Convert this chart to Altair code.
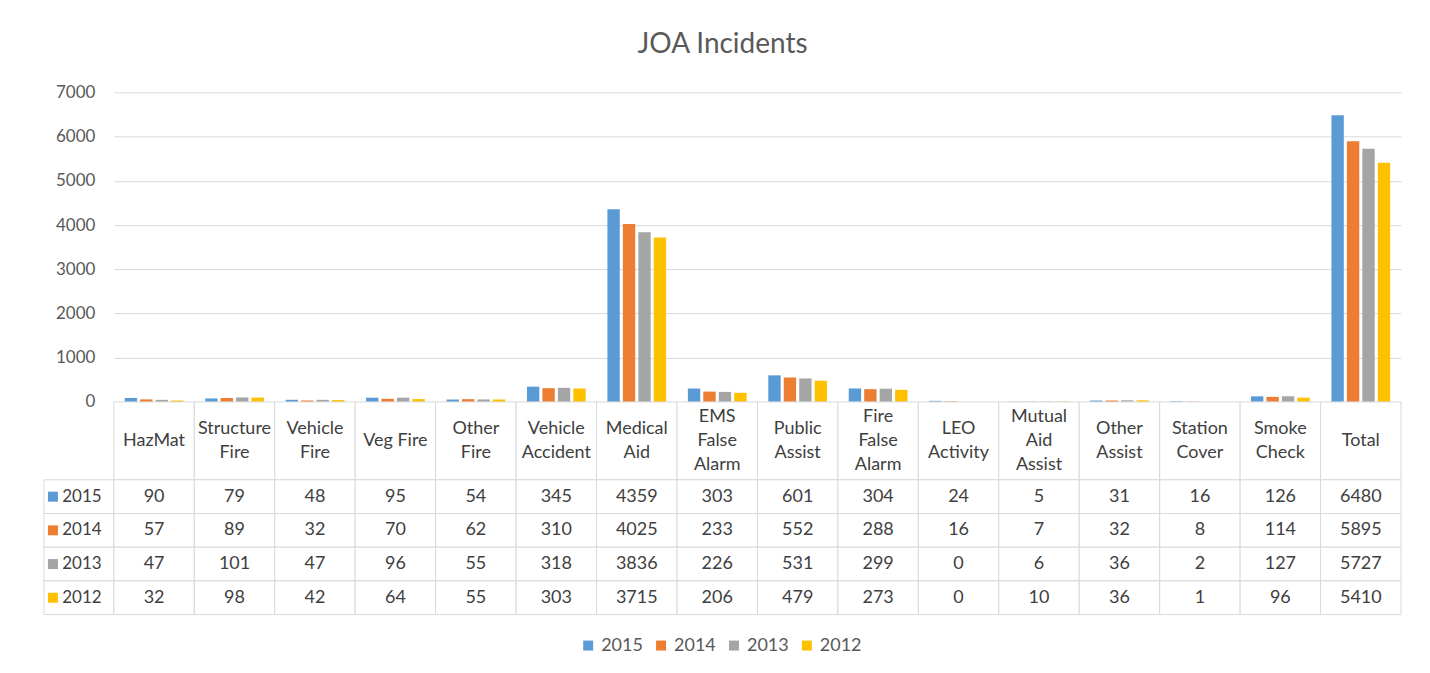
import altair as alt
import pandas as pd

categories = ["HazMat", "Structure Fire", "Vehicle Fire", "Veg Fire", "Other Fire",
              "Vehicle Accident", "Medical Aid", "EMS False Alarm", "Public Assist",
              "Fire False Alarm", "LEO Activity", "Mutual Aid Assist", "Other Assist",
              "Station Cover", "Smoke Check", "Total"]
header_lines = [["HazMat"], ["Structure", "Fire"], ["Vehicle", "Fire"], ["Veg Fire"],
                ["Other", "Fire"], ["Vehicle", "Accident"], ["Medical", "Aid"],
                ["EMS", "False", "Alarm"], ["Public", "Assist"], ["Fire", "False", "Alarm"],
                ["LEO", "Activity"], ["Mutual", "Aid", "Assist"], ["Other", "Assist"],
                ["Station", "Cover"], ["Smoke", "Check"], ["Total"]]
years = ["2015", "2014", "2013", "2012"]
colors = ["#5B9BD5", "#ED7D31", "#A5A5A5", "#FFC000"]
v2015 = [90, 79, 48, 95, 54, 345, 4359, 303, 601, 304, 24, 5, 31, 16, 126, 6480]
v2014 = [57, 89, 32, 70, 62, 310, 4025, 233, 552, 288, 16, 7, 32, 8, 114, 5895]
v2013 = [47, 101, 47, 96, 55, 318, 3836, 226, 531, 299, 0, 6, 36, 2, 127, 5727]
v2012 = [32, 98, 42, 64, 55, 303, 3715, 206, 479, 273, 0, 10, 36, 1, 96, 5410]

series = {"2015": v2015, "2014": v2014, "2013": v2013, "2012": v2012}
rows = []
for y in years:
    for c, v in zip(categories, series[y]):
        rows.append({"category": c, "year": y, "value": v, "text": str(v)})
df = pd.DataFrame(rows)

# header: one row per text line, centred vertically in its cell
hrows = []
for c, lines in zip(categories, header_lines):
    n = len(lines)
    for i, t in enumerate(lines):
        hrows.append({"category": c, "line": t, "pos": (n - 1) / 2 - i})
hdr_df = pd.DataFrame(hrows)
cat_df = pd.DataFrame({"category": categories})

FONT = "Lato"
TXT = "#404040"
GRID = "#D9D9D9"
W = 1289
FS = 18

bars = alt.Chart(df).mark_bar().encode(
    x=alt.X("category:N", sort=categories,
            scale=alt.Scale(domain=categories, paddingInner=0.27, paddingOuter=0.135),
            axis=None),
    xOffset=alt.XOffset("year:N", sort=years,
                        scale=alt.Scale(domain=years, paddingInner=0.2, paddingOuter=0)),
    y=alt.Y("value:Q", scale=alt.Scale(domain=[0, 7000], nice=False),
            axis=alt.Axis(values=list(range(0, 7001, 1000)), format="d", title=None,
                          domain=False, ticks=False, labelPadding=19, labelFontSize=17,
                          labelColor="#595959", labelFont=FONT, gridColor=GRID)),
    color=alt.Color("year:N", sort=years, scale=alt.Scale(domain=years, range=colors),
                    legend=alt.Legend(orient="none", legendX=536, legendY=545,
                                      direction="horizontal", title=None,
                                      symbolType="square", symbolSize=100,
                                      symbolStrokeWidth=0, labelFontSize=FS,
                                      labelFont=FONT, labelColor="#595959",
                                      columnPadding=9, labelOffset=4, padding=0)),
).properties(width=W, height=310)

hx = alt.X("category:N", sort=categories,
           scale=alt.Scale(domain=categories, paddingInner=0, paddingOuter=0), axis=None)

header = alt.layer(
    alt.Chart(cat_df).mark_rect(fill="white", stroke=GRID, strokeWidth=1).encode(x=hx),
    alt.Chart(hdr_df).mark_text(fontSize=FS, font=FONT, color=TXT).encode(
        x=hx,
        y=alt.Y("pos:Q", scale=alt.Scale(domain=[-1.625, 1.625], nice=False, zero=False),
                axis=None),
        text="line:N"),
).properties(width=W, height=78)

yy = alt.Y("year:N", sort=years,
           scale=alt.Scale(domain=years, paddingInner=0, paddingOuter=0), axis=None)
cbase = alt.Chart(df)
cells = alt.layer(
    cbase.mark_rect(fill="white", stroke=GRID, strokeWidth=1).encode(x=hx, y=yy),
    cbase.mark_text(fontSize=FS, font=FONT, color=TXT).encode(x=hx, y=yy, text="text:N"),
).properties(width=W, height=135)

lab_df = pd.DataFrame({"col": [""] * 4, "year": years, "hex": colors})
lx = alt.X("col:N", scale=alt.Scale(paddingInner=0, paddingOuter=0), axis=None)
lbase = alt.Chart(lab_df)
labels = alt.layer(
    lbase.mark_rect(fill="white", stroke=GRID, strokeWidth=1).encode(x=lx, y=yy),
    lbase.mark_square(size=100, opacity=1, xOffset=-26).encode(
        x=lx, y=yy, color=alt.Color("hex:N", scale=None)),
    lbase.mark_text(fontSize=17, font=FONT, color=TXT, xOffset=3).encode(
        x=lx, y=yy, text="year:N"),
).properties(width=70, height=135)

blank_df = pd.DataFrame({"a": [0]})
blank0 = alt.Chart(blank_df).mark_text(text="").encode(
    x=alt.value(0), y=alt.value(0)).properties(width=70, height=310)
blank1 = alt.Chart(blank_df).mark_text(text="").encode(
    x=alt.value(0), y=alt.value(0)).properties(width=70, height=78)

chart = alt.concat(
    blank0, bars, blank1, header, labels, cells,
    columns=2, spacing=0, bounds="flush",
).properties(
    title=alt.TitleParams("JOA Incidents", fontSize=28, font=FONT, color="#595959",
                          fontWeight="normal", anchor="middle", offset=24),
    padding={"left": 35, "top": 23, "right": 20, "bottom": 10},
).configure_view(stroke=None)

chart.save("out.html", embed_options={"renderer": "svg", "actions": False})
